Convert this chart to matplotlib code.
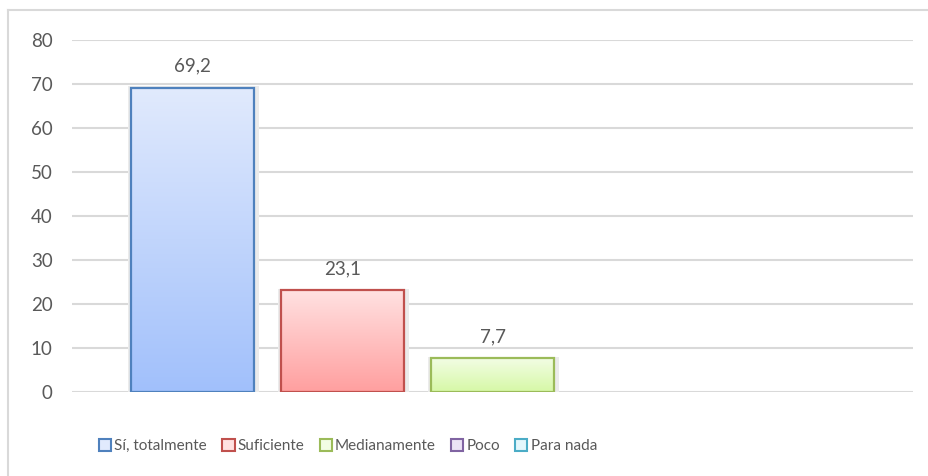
import matplotlib

matplotlib.use("Agg")
import matplotlib.pyplot as plt
import numpy as np
from matplotlib.colors import LinearSegmentedColormap
from matplotlib.lines import Line2D
from matplotlib.patches import Rectangle

plt.rcParams["font.family"] = ["Lato", "DejaVu Sans"]

categories = ["Sí, totalmente", "Suficiente", "Medianamente", "Poco", "Para nada"]
values = [69.2, 23.1, 7.7, 0.0, 0.0]
labels = ["69,2", "23,1", "7,7", "", ""]
y_ticks = [0, 10, 20, 30, 40, 50, 60, 70, 80]

edge_colors = ["#4f81bd", "#c0504d", "#9bbb59", "#8064a2", "#4bacc6"]
top_colors = ["#e1eafd", "#ffe1e1", "#f2fde4", "#ebe3f5", "#e3f7fc"]
bottom_colors = ["#a1c0fb", "#ff9f9f", "#d6f8a6", "#c9b8e3", "#a4e5f5"]

fig = plt.figure(figsize=(9.29, 4.76), dpi=100)
ax = fig.add_axes([72 / 929, 84 / 476, 841 / 929, 352 / 476])

width = 0.82
x = np.arange(len(categories))
grad = np.linspace(1, 0, 256).reshape(-1, 1)

for i, (cat, v) in enumerate(zip(categories, values)):
    cmap = LinearSegmentedColormap.from_list(cat, [bottom_colors[i], top_colors[i]])
    if v > 0:
        # soft shadow
        ax.add_patch(Rectangle((x[i] - width / 2 - 0.02, 0), width + 0.05, v + 0.3,
                               facecolor="#ebebeb", edgecolor="none", zorder=2))
        bar = ax.bar(x[i], v, width=width, color="none", edgecolor=edge_colors[i],
                     linewidth=1.6, zorder=4)[0]
        im = ax.imshow(grad, cmap=cmap, aspect="auto", zorder=3,
                       extent=(x[i] - width / 2, x[i] + width / 2, 0, v))
        im.set_clip_path(bar)
        ax.text(x[i], v + 3.0, labels[i], ha="center", va="bottom",
                fontsize=13.5, color="#595959", zorder=5)

ax.set_xlim(2 - 420.5 / 150, 2 + 420.5 / 150)
ax.set_ylim(0, 80)
ax.set_yticks(y_ticks)
ax.set_yticklabels([str(t) for t in y_ticks])
ax.set_xticks([])
ax.tick_params(axis="y", length=0, labelsize=13.5, labelcolor="#595959", pad=14)
ax.grid(axis="y", color="#d9d9d9", linewidth=1.5, zorder=1)
ax.set_axisbelow(True)
for s in ax.spines.values():
    s.set_visible(False)

handles = [Rectangle((0, 0), 1, 1, facecolor=top_colors[i], edgecolor=edge_colors[i],
                     linewidth=1.5) for i in range(len(categories))]
fig.legend(handles, categories, loc="center", bbox_to_anchor=(348 / 929, 1 - 446 / 476),
           ncol=5, frameon=False, fontsize=11, labelcolor="#595959",
           handlelength=0.8, handleheight=0.8, handletextpad=0.2, columnspacing=1.0)

# chart area border (top and left visible)
fig.add_artist(Line2D([8 / 929, 1], [1 - 10 / 476] * 2, color="#d9d9d9", linewidth=1.5))
fig.add_artist(Line2D([8 / 929] * 2, [0, 1 - 10 / 476], color="#d9d9d9", linewidth=1.5))

fig.savefig("out.png", dpi=100)
plt.close(fig)
